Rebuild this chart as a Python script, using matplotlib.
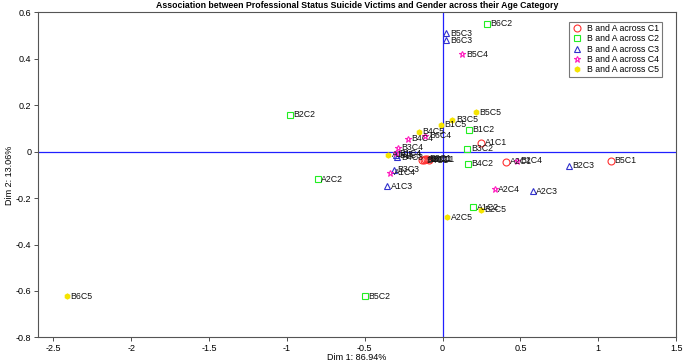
import matplotlib.pyplot as plt

plt.rcParams["font.family"] = ["Liberation Sans", "DejaVu Sans"]

# C1
c1_names = ["A1C1", "A2C1", "B5C1", "B1C1", "B2C1", "B3C1", "B4C1", "B6C1"]
c1_x = [0.25, 0.41, 1.08, -0.09, -0.12, -0.11, -0.13, -0.10]
c1_y = [0.038, -0.044, -0.039, -0.035, -0.034, -0.030, -0.038, -0.032]

# C2
c2_names = ["B6C2", "B2C2", "B1C2", "B3C2", "B4C2", "A2C2", "A1C2", "B5C2"]
c2_x = [0.285, -0.98, 0.17, 0.16, 0.165, -0.80, 0.196, -0.50]
c2_y = [0.55, 0.159, 0.094, 0.013, -0.053, -0.12, -0.24, -0.622]

# C3
c3_names = ["B5C3", "B6C3", "B2C3", "A2C3", "A1C3", "B3C3", "B1C3", "B4C3"]
c3_x = [0.025, 0.025, 0.81, 0.58, -0.355, -0.31, -0.30, -0.29]
c3_y = [0.51, 0.48, -0.06, -0.17, -0.15, -0.077, -0.015, -0.025]

# C4
c4_names = ["B5C4", "B4C4", "B6C4", "B3C4", "B2C4", "A2C4", "A1C4", "B1C4"]
c4_x = [0.127, -0.22, -0.11, -0.285, 0.48, 0.335, -0.335, -0.30]
c4_y = [0.42, 0.055, 0.068, 0.017, -0.039, -0.163, -0.09, -0.008]

# C5
c5_names = ["B5C5", "B3C5", "B1C5", "B4C5", "A1C5", "A2C5", "B2C5", "B6C5"]
c5_x = [0.215, 0.063, -0.01, -0.15, -0.35, 0.03, 0.247, -2.41]
c5_y = [0.17, 0.137, 0.116, 0.085, -0.013, -0.283, -0.25, -0.622]

series = [
    (c1_names, c1_x, c1_y, "o", "#ff3030", "B and A across C1"),
    (c2_names, c2_x, c2_y, "s", "#22ee22", "B and A across C2"),
    (c3_names, c3_x, c3_y, "^", "#3030cc", "B and A across C3"),
    (c4_names, c4_x, c4_y, "*", "#ff20c0", "B and A across C4"),
    (c5_names, c5_x, c5_y, "h", "#f5e400", "B and A across C5"),
]

fig = plt.figure(figsize=(6.85, 3.62), dpi=100)
ax = fig.add_axes([0.055, 0.068, 0.932, 0.898])

ax.axhline(0, color="#2020ff", lw=0.9, zorder=1)
ax.axvline(0, color="#2020ff", lw=0.9, zorder=1)

for names, xs, ys, m, col, lab in series:
    if m == "h":
        ax.plot(xs, ys, m, color=col, ms=3.5, ls="none", label=lab, zorder=3)
    else:
        ax.plot(xs, ys, m, mfc="none", mec=col, ms=5, mew=0.8, ls="none",
                label=lab, zorder=3)
    for n, x, y in zip(names, xs, ys):
        ax.annotate(n, (x, y), xytext=(2.5, 0), textcoords="offset points",
                    va="center", ha="left", fontsize=6.3, color="#111111",
                    zorder=4)

ax.set_xlim(-2.6, 1.5)
ax.set_ylim(-0.8, 0.6)
ax.set_xticks([-2.5, -2, -1.5, -1, -0.5, 0, 0.5, 1, 1.5])
ax.set_xticklabels(["-2.5", "-2", "-1.5", "-1", "-0.5", "0", "0.5", "1", "1.5"])
ax.set_yticks([-0.8, -0.6, -0.4, -0.2, 0, 0.2, 0.4, 0.6])
ax.set_yticklabels(["-0.8", "-0.6", "-0.4", "-0.2", "0", "0.2", "0.4", "0.6"])
ax.tick_params(labelsize=6.5, length=3, width=0.6, color="#333333", pad=1.5)
for s in ax.spines.values():
    s.set_color("#555555")
    s.set_linewidth(0.8)

ax.set_xlabel("Dim 1: 86.94%", fontsize=6.5, labelpad=0)
ax.set_ylabel("Dim 2: 13.06%", fontsize=6.5, labelpad=1)
ax.set_title("Association between Professional Status Suicide Victims and Gender across their Age Category",
             fontsize=6.3, fontweight="bold", pad=3)

leg = ax.legend(loc="upper right", fontsize=6.3, frameon=True, fancybox=False,
                edgecolor="#555555", borderpad=0.3, labelspacing=0.15,
                handletextpad=0.6, handlelength=1.2, bbox_to_anchor=(0.985, 0.985))
leg.get_frame().set_linewidth(0.8)

fig.savefig("out.png", dpi=100)
